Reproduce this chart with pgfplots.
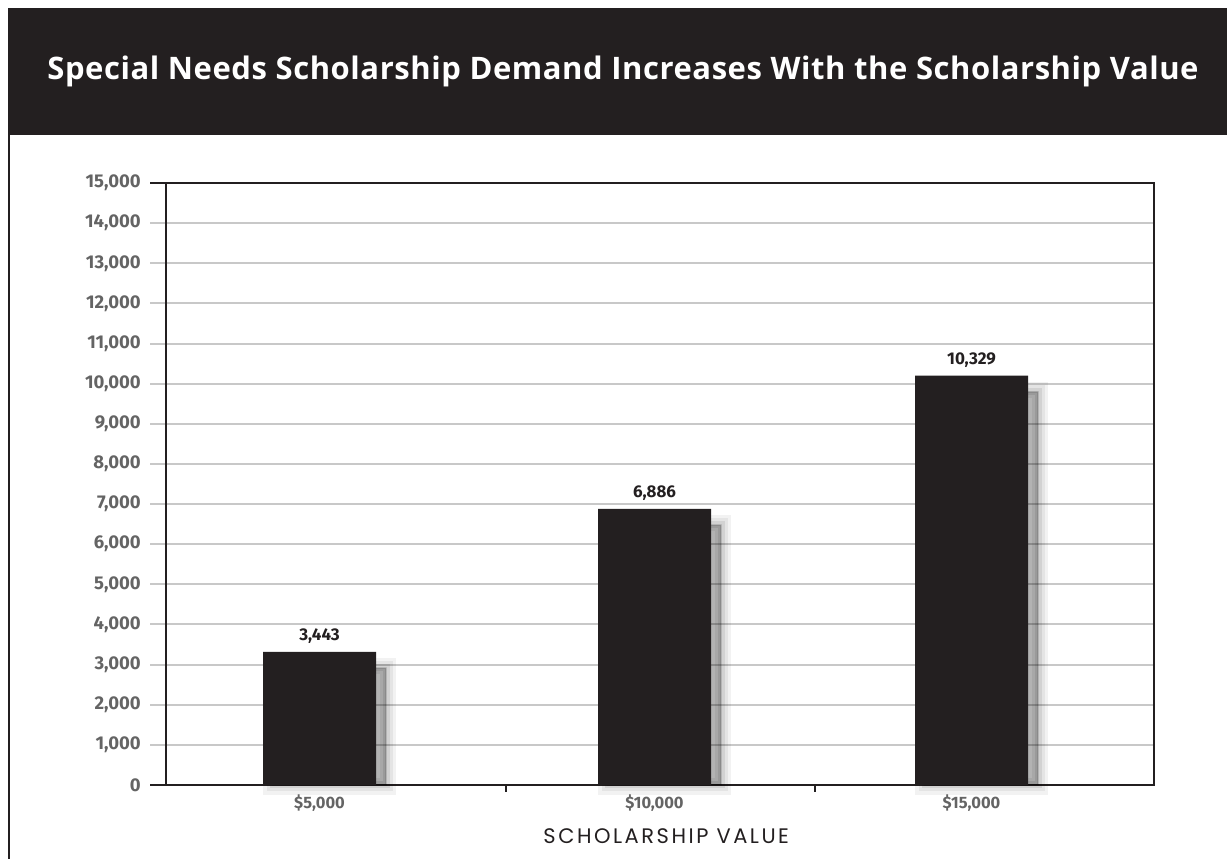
\documentclass[border=0pt]{standalone}
\usepackage{fontspec}
\usepackage{pgfplots}
\usepackage{pgfplotstable}
\pgfplotsset{compat=1.18}
\setmainfont{Fira Sans}
\newfontfamily\tickfont{Fira Sans}
\newfontfamily\titlefont[LetterSpace=1.8]{Open Sans}
\newfontfamily\labfont[LetterSpace=12]{Poppins}
\definecolor{barc}{HTML}{231F20}
\definecolor{gridc}{HTML}{C8C8C8}
\definecolor{tickc}{HTML}{646464}
\pgfplotstableread{
x y label
319.5 3320 3,443
654.5 6880 6,886
971.5 10200 10,329
}\bardata
\pgfplotsset{shad/.style 2 args={ybar, bar width=113, bar shift=10, fill=black, fill opacity=#2, draw=black, draw opacity=#2, line width=#1, forget plot}}
\begin{document}
\begin{tikzpicture}[x=1pt,y=1pt]
\path[use as bounding box] (0pt,0pt) rectangle (1227pt,859pt);
\fill[barc] (8pt,724pt) rectangle (1227pt,851pt);
\draw[barc, line width=2pt] (9pt,724pt) -- (9pt,0pt);
\node[text=white, font=\titlefont\bfseries\fontsize{31}{31}\selectfont] at (623pt,788pt) {Special Needs Scholarship Demand Increases With the Scholarship Value};
\begin{axis}[
  at={(166pt,74pt)}, anchor=south west, scale only axis,
  width=988pt, height=602pt,
  xmin=166, xmax=1154, ymin=0, ymax=15000,
  xtick={319.5,654.5,971.5},
  xticklabels={{\$5,000},{\$10,000},{\$15,000}},
  xtick style={draw=none},
  extra x ticks={506,815},
  extra x tick labels={},
  extra x tick style={tick align=outside, major tick length=7pt, xtick style={draw=barc, line width=2pt}},
  xtick pos=bottom, ytick pos=left,
  ytick={0,1000,...,15000},
  scaled y ticks=false,
  /pgf/number format/assume math mode=true,
  yticklabel={\pgfmathprintnumber[1000 sep={,}]{\tick}},
  ytick style={draw=gridc, line width=2pt},
  tick align=outside,
  major tick length=16pt,
  ymajorgrids,
  major grid style={gridc, line width=2pt},
  axis line style={barc, line width=2pt},
  clip=false,
  yticklabel style={font=\tickfont\bfseries\fontsize{18.5}{18.5}\selectfont, text=tickc, inner sep=0pt, xshift=-9pt},
  xticklabel style={font=\tickfont\bfseries\fontsize{16.5}{16.5}\selectfont, text=tickc, inner sep=0pt, yshift=6pt},
  xlabel={SCHOLARSHIP VALUE},
  xlabel style={font=\labfont\fontsize{21}{21}\selectfont, text=barc, at={(axis description cs:0.5063,0)}, anchor=center, yshift=-51pt},
]
\addplot[shad={20pt}{0.05}] table[x=x, y expr=\thisrow{y}-400] {\bardata};
\addplot[shad={13pt}{0.06}] table[x=x, y expr=\thisrow{y}-400] {\bardata};
\addplot[shad={7pt}{0.08}] table[x=x, y expr=\thisrow{y}-400] {\bardata};
\addplot[shad={2pt}{0.1}] table[x=x, y expr=\thisrow{y}-400] {\bardata};
\addplot[ybar, bar width=113, fill=barc, draw=none,
  nodes near coords, point meta=explicit symbolic,
  nodes near coords style={font=\tickfont\bfseries\fontsize{17}{17}\selectfont, text=barc, yshift=5pt}]
  table[x=x, y=y, meta=label] {\bardata};
\end{axis}
\draw[barc, line width=2pt] (150pt,74pt) -- (166pt,74pt);
\draw[barc, line width=2pt] (150pt,676pt) -- (166pt,676pt);
\end{tikzpicture}
\end{document}
